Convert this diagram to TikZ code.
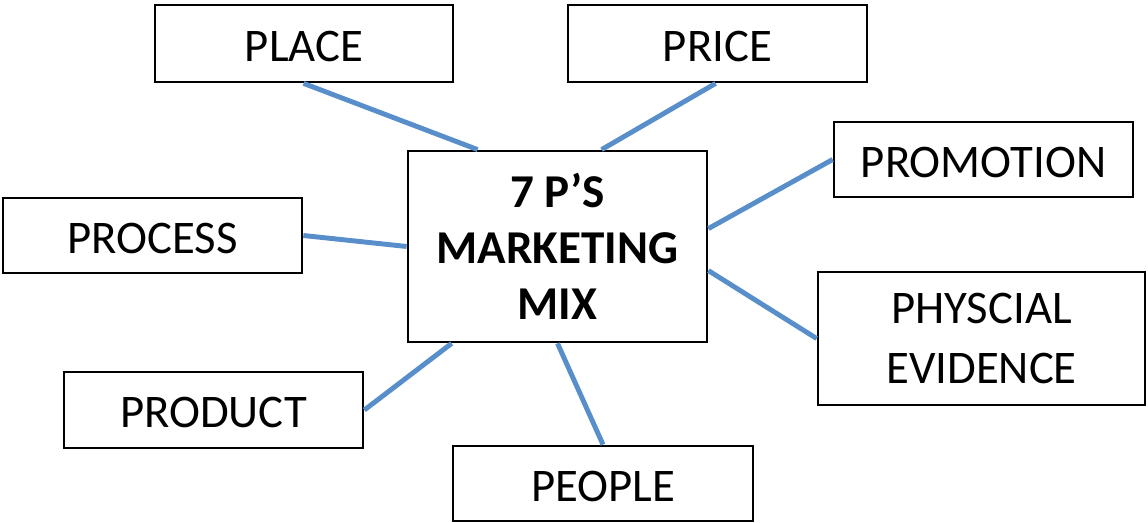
\documentclass[tikz,border=0pt]{standalone}
\usepackage{fontspec}
\setmainfont{Carlito}
\usepackage{tikz}
\usetikzlibrary{positioning}
\usepackage{xcolor}
\definecolor{linkblue}{RGB}{88,142,202}

\begin{document}
\begin{tikzpicture}[x=0.02cm,y=-0.02cm,
	    pbox/.style={draw,line width=1.6pt,inner sep=0pt,align=center,minimum width=5.98cm,minimum height=1.5cm,font=\fontsize{26.6}{34.6}\selectfont},
	    sbox/.style={pbox,text height=20.5pt},
	    link/.style={linkblue,line width=2.8pt}]
	    \useasboundingbox (0,0) rectangle (1148,523);
	    \node(mix)		[pbox,minimum height=3.82cm,font=\bfseries\fontsize{26.8}{32}\selectfont] at (557.5,246.5)	{7 P’S\\MARKETING\\MIX};
	    \node(place)	[sbox,minimum width=5.96cm,minimum height=1.54cm] at (304,43.5)	{PLACE};
	    \node(price)	[sbox,minimum height=1.54cm] at (717.5,43.5)	{PRICE};
	    \node(promo)	[sbox] at (983.5,159.5)	{PROMOTION};
	    \node(process)	[sbox] at (152.5,235.5)	{PROCESS};
	    \node(phys)		[pbox,minimum width=6.54cm,minimum height=2.66cm] at (981.5,338.5)	{PHYSCIAL\\EVIDENCE};
	    \node(product)	[sbox,minimum height=1.52cm] at (213.5,410)	{PRODUCT};
	    \node(people)	[sbox,minimum width=6cm] at (603,483.5)	{PEOPLE};
	    \draw[link] ([xshift=3cm]place.south west) -- ([xshift=1.42cm]mix.north west);
	    \draw[link] ([xshift=2.98cm]price.south west) -- ([xshift=3.9cm]mix.north west);
	    \draw[link] (promo.west) -- ([yshift=-1.58cm]mix.north east);
	    \draw[link] (process.east) -- (mix.west);
	    \draw[link] (phys.west) -- ([yshift=-2.42cm]mix.north east);
	    \draw[link] (product.east) -- ([xshift=0.9cm]mix.south west);
	    \draw[link] (people.north) -- (mix.south);
	  \end{tikzpicture}
\end{document}
